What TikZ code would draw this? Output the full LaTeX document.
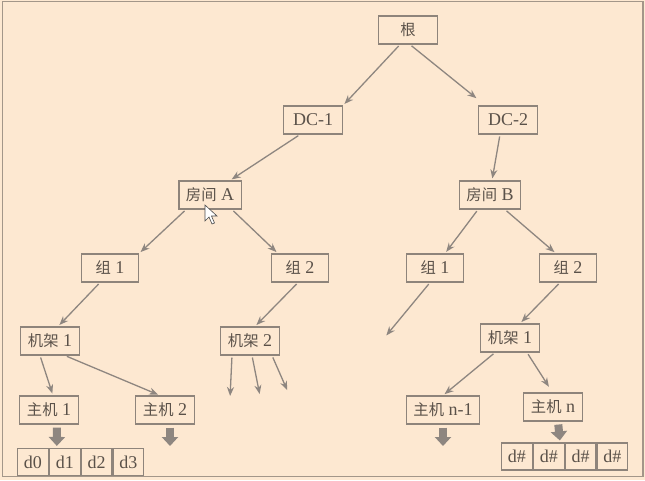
\documentclass[tikz,border=0pt]{standalone}
\usepackage{fontspec}
\setmainfont{Liberation Serif}
\newfontfamily\cjk{Noto Sans CJK SC}[Scale=0.85]
\usetikzlibrary{arrows.meta}
\definecolor{paper}{HTML}{FDE8D1}
\definecolor{frameclr}{HTML}{A39689}
\definecolor{boxclr}{HTML}{8E847B}
\definecolor{inkclr}{HTML}{5A5149}
\definecolor{arrclr}{HTML}{8E8680}

\begin{document}
\begin{tikzpicture}[x=1pt,y=-1pt,
  box/.style={draw=boxclr, line width=1.1pt, text=inkclr, minimum width=59pt,
    minimum height=28pt, inner xsep=7pt, inner ysep=2pt,
    font=\fontsize{18}{20}\selectfont},
  grp/.style={box, minimum width=57pt},
  cell/.style={box, minimum width=30.75pt, minimum height=27pt, inner sep=0pt, anchor=west},
  link/.style={draw=arrclr, line width=1.3pt, -{Stealth[length=9pt,width=7pt]},
    shorten <=2pt, shorten >=2pt},
  fat/.style={draw=arrclr, line width=8pt, -{Triangle[length=9pt 0 0,width=16pt 0 0]},
    shorten <=3pt}
]
% paper and outer frame
\fill[paper] (0,0) rectangle (645,480);
\useasboundingbox (0,0) rectangle (645,480);
\draw[frameclr, line width=1.5pt] (2.5,1.5) rectangle (643,476.5);

% tree nodes
\node[box] (root)  at (408,30)  {\cjk 根};
\node[box] (dc1)   at (313,120) {DC-1};
\node[box] (dc2)   at (508,120) {DC-2};
\node[box] (roomA) at (210,195) {{\cjk 房间} A};
\node[box] (roomB) at (490,195) {{\cjk 房间} B};
\node[grp] (g1L)   at (110,268) {{\cjk 组} 1};
\node[grp] (g2L)   at (300,268) {{\cjk 组} 2};
\node[grp] (g1R)   at (435,268) {{\cjk 组} 1};
\node[grp] (g2R)   at (568,268) {{\cjk 组} 2};
\node[box] (rk1L)  at (50,341)  {{\cjk 机架} 1};
\node[box] (rk2L)  at (250,341) {{\cjk 机架} 2};
\node[box] (rk1R)  at (510,338) {{\cjk 机架} 1};
\node[box] (h1)    at (49,410)  {{\cjk 主机} 1};
\node[box] (h2)    at (165,410) {{\cjk 主机} 2};
\node[box] (hn1)   at (443,410) {{\cjk 主机} n-1};
\node[box] (hn)    at (553,407) {{\cjk 主机} n};

% disk rows
\node[cell] (d0) at (17,462)      {d0};
\node[cell] (d1) at (d0.east)     {d1};
\node[cell] (d2) at (d1.east)     {d2};
\node[cell] (d3) at (d2.east)     {d3};
\node[cell] (e0) at (501,456.5)   {d\#};
\node[cell] (e1) at (e0.east)     {d\#};
\node[cell] (e2) at (e1.east)     {d\#};
\node[cell] (e3) at (e2.east)     {d\#};

% free arrow ends
\coordinate (g1Rend) at (385,337);
\coordinate (rk2a) at (230,398);
\coordinate (rk2b) at (260,396);
\coordinate (rk2c) at (288,392);
\coordinate (h2end) at (170,446);
\coordinate (hn1end) at (443,446);

% tree links
\draw[link] ([xshift=-8pt]root.south) -- (dc1.north east);
\draw[link] ([xshift=2pt]root.south) -- ([yshift=6pt]dc2.north west);
\draw[link] ([xshift=-13pt]dc1.south) -- ([xshift=20pt]roomA.north);
\draw[link] ([xshift=-8pt]dc2.south) -- ([xshift=2pt]roomB.north);
\draw[link] ([xshift=-24pt]roomA.south) -- (g1L.north east);
\draw[link] ([xshift=22pt]roomA.south) -- ([xshift=7pt]g2L.north west);
\draw[link] ([xshift=-12pt]roomB.south) -- ([xshift=10pt]g1R.north);
\draw[link] ([xshift=15pt]roomB.south) -- ([xshift=-12pt]g2R.north);
\draw[link] ([xshift=-10pt]g1L.south) -- ([xshift=8pt]rk1L.north);
\draw[link] ([xshift=-2pt]g2L.south) -- ([xshift=5pt]rk2L.north);
\draw[link] ([xshift=-5pt]g1R.south) -- (g1Rend);
\draw[link] ([xshift=-8pt]g2R.south) -- ([xshift=10pt]rk1R.north);
\draw[link] ([xshift=-10pt]rk1L.south) -- ([xshift=4pt]h1.north);
\draw[link] ([xshift=15pt]rk1L.south) -- ([xshift=-5pt]h2.north);
\draw[link] ([xshift=-18pt]rk2L.south) -- (rk2a);
\draw[link] ([xshift=2pt]rk2L.south) -- (rk2b);
\draw[link] ([xshift=22pt]rk2L.south) -- (rk2c);
\draw[link] ([xshift=-15pt]rk1R.south) -- (hn1.north);
\draw[link] ([xshift=17pt]rk1R.south) -- ([xshift=-3pt,yshift=4pt]hn.north);

% host to disk arrows
\draw[fat] ([xshift=8pt]h1.south) -- ([xshift=8pt,yshift=2pt]d1.north west);
\draw[fat] ([xshift=5pt]h2.south) -- (h2end);
\draw[fat] (hn1.south) -- (hn1end);
\draw[fat] ([xshift=5pt]hn.south) -- ([xshift=27pt,yshift=2pt]e1.north west);

% mouse pointer
\filldraw[fill=white, draw=black!70, line width=0.6pt]
  (205,205) -- ++(0,16) -- ++(4,-4) -- ++(3,7) -- ++(2.5,-1) -- ++(-3,-7) -- ++(5.5,0) -- cycle;
\end{tikzpicture}
\end{document}
